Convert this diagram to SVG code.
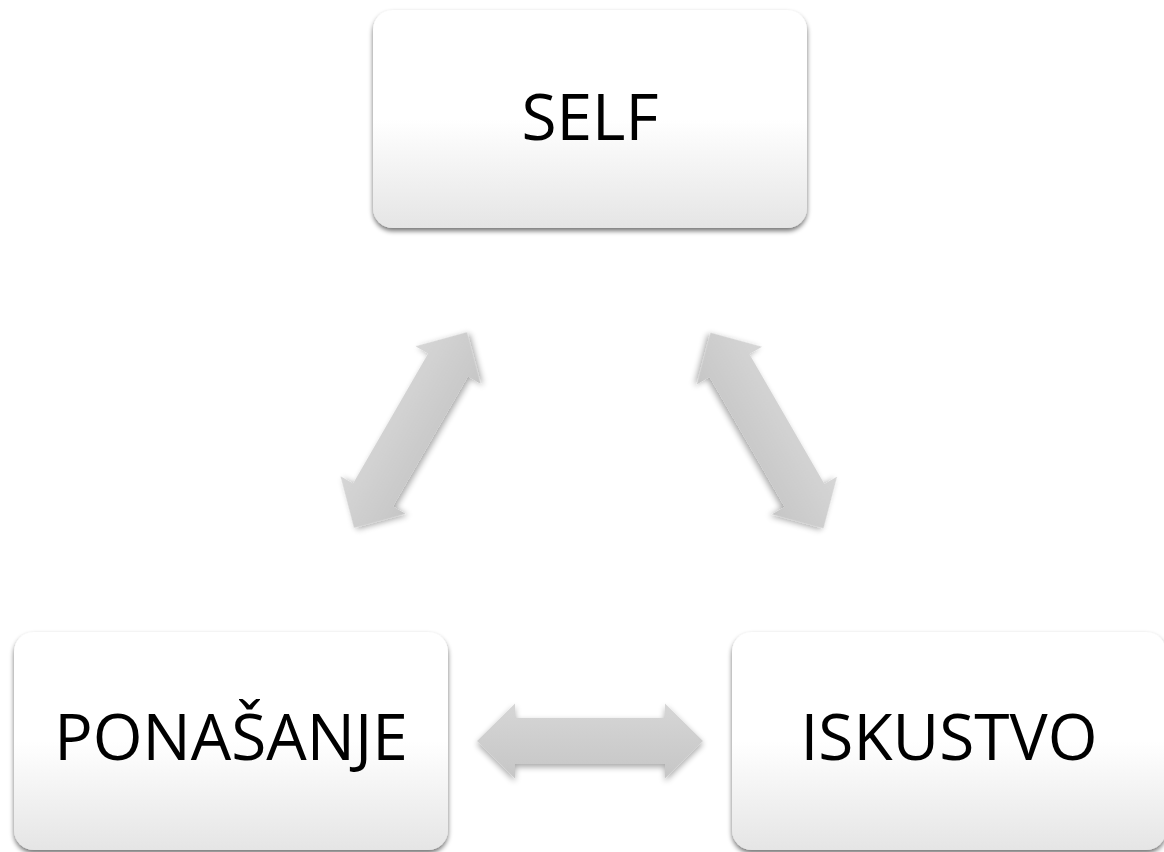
<svg xmlns="http://www.w3.org/2000/svg" xmlns:xlink="http://www.w3.org/1999/xlink" width="1164" height="852" viewBox="0 0 1164 852">
  <defs>
    <linearGradient id="boxGrad" x1="0" y1="0" x2="0" y2="1">
      <stop offset="0" stop-color="#ffffff"/>
      <stop offset="0.5" stop-color="#ffffff"/>
      <stop offset="1" stop-color="#e5e5e5"/>
    </linearGradient>
    <linearGradient id="arrowGrad" x1="0" y1="0" x2="0" y2="1">
      <stop offset="0" stop-color="#d6d6d6"/>
      <stop offset="1" stop-color="#c6c6c6"/>
    </linearGradient>
    <filter id="boxShadow" x="-10%" y="-10%" width="120%" height="125%">
      <feGaussianBlur in="SourceAlpha" stdDeviation="2.5"/>
      <feOffset dx="0" dy="3" result="b"/>
      <feComponentTransfer><feFuncA type="linear" slope="0.55"/></feComponentTransfer>
      <feMerge><feMergeNode/><feMergeNode in="SourceGraphic"/></feMerge>
    </filter>
    <filter id="arrowShadow" x="-20%" y="-40%" width="140%" height="180%">
      <feGaussianBlur in="SourceAlpha" stdDeviation="3"/>
      <feOffset dx="0" dy="3" result="b"/>
      <feComponentTransfer><feFuncA type="linear" slope="0.35"/></feComponentTransfer>
      <feMerge><feMergeNode/><feMergeNode in="SourceGraphic"/></feMerge>
    </filter>
    <path id="dblArrow" d="M-113,0 L-75,-37.5 L-75,-23 L75,-23 L75,-37.5 L113,0 L75,37.5 L75,23 L-75,23 L-75,37.5 Z"/>
  </defs>
  <style>
    .box { fill: url(#boxGrad); filter: url(#boxShadow); }
    .label { font-family: "Open Sans", "Liberation Sans", sans-serif; font-size: 64px; fill: #000000; text-anchor: middle; }
    .arrow { fill: url(#arrowGrad); filter: url(#arrowShadow); }
  </style>
  <rect width="1164" height="852" fill="#ffffff"/>

  <g id="connectors">
    <use xlink:href="#dblArrow" class="arrow" transform="translate(410.5,430) rotate(-60)"/>
    <use xlink:href="#dblArrow" class="arrow" transform="translate(767,430.5) rotate(60)"/>
    <use xlink:href="#dblArrow" class="arrow" transform="translate(590,741)"/>
  </g>

  <g id="node-self">
    <rect class="box" x="373" y="10" width="434" height="218" rx="20" ry="20"/>
    <text class="label" x="590" y="140">SELF</text>
  </g>

  <g id="node-ponasanje">
    <rect class="box" x="14" y="632" width="434" height="218" rx="20" ry="20"/>
    <text class="label" x="231" y="760">PONAŠANJE</text>
  </g>

  <g id="node-iskustvo">
    <rect class="box" x="732" y="632" width="434" height="218" rx="20" ry="20"/>
    <text class="label" x="949" y="760">ISKUSTVO</text>
  </g>
</svg>
